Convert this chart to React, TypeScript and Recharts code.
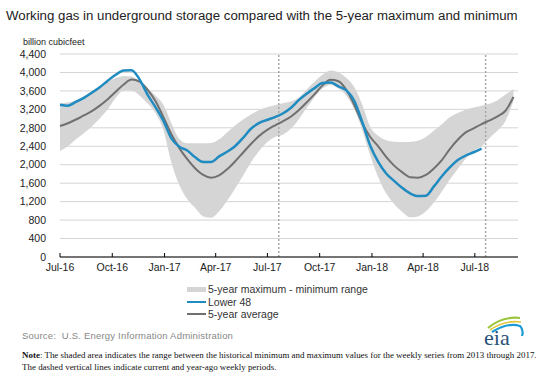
import React from 'react';
import {
  ComposedChart,
  Area,
  Line,
  XAxis,
  YAxis,
  CartesianGrid,
  ReferenceLine,
} from 'recharts';

// week offsets from 1 Jul 2016, every second week
const weeks = [
  0, 2, 4, 6, 8, 10, 12, 14, 16, 18, 20, 22, 24, 26, 28, 30, 32, 34, 36, 38,
  40, 42, 44, 46, 48, 50, 52, 54, 56, 58, 60, 62, 64, 66, 68, 70, 72, 74, 76,
  78, 80, 82, 84, 86, 88, 90, 92, 94, 96, 98, 100, 102, 104, 106, 108, 110,
  112, 114,
];

const lower48 = [
  3300, 3280, 3360, 3450, 3560, 3680, 3820, 3950, 4040, 4050, 3850, 3520,
  3250, 2950, 2570, 2390, 2310, 2160, 2060, 2060, 2180, 2280, 2400, 2580,
  2780, 2900, 2970, 3030, 3110, 3230, 3400, 3540, 3660, 3770, 3780, 3700,
  3610, 3380, 2920, 2410, 2060, 1810, 1650, 1500, 1380, 1320, 1330, 1530,
  1750, 1940, 2100, 2200, 2270, 2350,
];

const fiveYearAvg = [
  2840, 2900, 2980, 3070, 3160, 3280, 3420, 3580, 3740, 3850, 3800, 3630,
  3380, 3030, 2660, 2360, 2120, 1920, 1780, 1720, 1770, 1900, 2070, 2260,
  2450, 2620, 2750, 2850, 2940, 3040, 3180, 3350, 3530, 3720, 3840, 3810,
  3620, 3290, 2900, 2600, 2400, 2170, 1980, 1840, 1730, 1720, 1780, 1920,
  2100, 2340, 2540, 2700, 2790, 2880, 2960, 3050, 3170, 3470,
];

const rangeMax = [
  3330, 3350, 3400, 3480, 3600, 3700, 3800, 3880, 3925, 3910, 3800, 3660,
  3500, 3300, 2900, 2560, 2465, 2465, 2465, 2470, 2550, 2700, 2850, 2980,
  3090, 3180, 3245, 3290, 3330, 3370, 3450, 3630, 3800, 3950, 4040, 4000,
  3880, 3680, 3300, 2820, 2630, 2530, 2500, 2490, 2495, 2520, 2600, 2740,
  2880, 3030, 3120, 3190, 3240, 3280, 3320, 3400, 3520, 3640,
];

const rangeMin = [
  2300, 2400, 2550, 2680, 2830, 3000, 3200, 3450, 3610, 3610, 3500, 3330,
  3120, 2750, 2050, 1560, 1250, 1060, 880, 850, 990, 1220, 1480, 1760,
  2050, 2290, 2480, 2600, 2650, 2780, 2980, 3230, 3460, 3650, 3730, 3650,
  3490, 3200, 2750, 2200, 1730, 1380, 1150, 980, 860, 880, 990, 1180,
  1420, 1680, 1910, 2130, 2300, 2400, 2580, 2740, 2950, 3380,
];

const tickDates = [
  '2016-07-01', '2016-10-01', '2017-01-01', '2017-04-01', '2017-07-01',
  '2017-10-01', '2018-01-01', '2018-04-01', '2018-07-01',
];
const tickLabels = [
  'Jul-16', 'Oct-16', 'Jan-17', 'Apr-17', 'Jul-17',
  'Oct-17', 'Jan-18', 'Apr-18', 'Jul-18',
];
const yTicks = [0, 400, 800, 1200, 1600, 2000, 2400, 2800, 3200, 3600, 4000, 4400];

// year-ago and current weeks (21 Jul 2017, 20 Jul 2018)
const markerWeeks = [55, 107];
const axisEndDate = '2018-09-15';

const START = Date.UTC(2016, 6, 1);
const toDay = (s: string) => (Date.parse(s + 'T00:00:00Z') - START) / 86400000;

const tickDays = tickDates.map(toDay);

const data = weeks.map((w, i) => ({
  day: w * 7,
  lower48: i < lower48.length ? lower48[i] : null,
  avg: fiveYearAvg[i],
  range: [rangeMin[i], rangeMax[i]],
}));

const font = '"Liberation Sans", Arial, sans-serif';

const XTick = (props: any) => {
  const { x, y, payload } = props;
  const idx = tickDays.indexOf(payload.value);
  return (
    <g>
      <line x1={x} x2={x} y1={y} y2={y - 4} stroke="#000" strokeWidth={1} />
      <text x={x} y={y + 14} textAnchor="middle" fontSize={10.5} fill="#222" fontFamily={font}>
        {idx >= 0 ? tickLabels[idx] : ''}
      </text>
    </g>
  );
};

export default function App() {
  return (
    <div
      style={{
        position: 'absolute',
        left: 0,
        top: 0,
        width: 542,
        height: 379,
        background: '#fff',
        fontFamily: font,
        overflow: 'hidden',
      }}
    >
      <ComposedChart
        width={542}
        height={379}
        data={data}
        margin={{ top: 54, right: 24, left: 0, bottom: 102 }}
      >
        <CartesianGrid vertical={false} stroke="#d4d4d4" strokeWidth={1} />
        <XAxis
          dataKey="day"
          type="number"
          domain={[0, toDay(axisEndDate)]}
          ticks={tickDays}
          interval={0}
          height={20}
          tickSize={0}
          tickMargin={0}
          tickLine={false}
          axisLine={{ stroke: '#000', strokeWidth: 1 }}
          tick={<XTick />}
        />
        <YAxis
          width={60}
          domain={[0, 4400]}
          ticks={yTicks}
          interval={0}
          axisLine={false}
          tickLine={false}
          tickMargin={8}
          tick={{ fontSize: 10.5, fill: '#222', fontFamily: font }}
          tickFormatter={(v: number) => v.toLocaleString('en-US')}
        />
        <Area
          dataKey="range"
          type="monotone"
          stroke="none"
          fill="#d5d5d5"
          fillOpacity={1}
          isAnimationActive={false}
        />
        {markerWeeks.map((w) => (
          <ReferenceLine
            key={w}
            x={w * 7}
            stroke="#a8a8a8"
            strokeWidth={1.5}
            strokeDasharray="2 2"
          />
        ))}
        <Line
          dataKey="avg"
          type="monotone"
          stroke="#707070"
          strokeWidth={2}
          dot={false}
          isAnimationActive={false}
        />
        <Line
          dataKey="lower48"
          type="monotone"
          stroke="#1f8bc0"
          strokeWidth={2.5}
          dot={false}
          connectNulls={false}
          isAnimationActive={false}
        />
      </ComposedChart>

      <div style={{ position: 'absolute', left: 6, top: 8, fontSize: 13.25, color: '#222', whiteSpace: 'nowrap' }}>
        Working gas in underground storage compared with the 5-year maximum and minimum
      </div>
      <div style={{ position: 'absolute', left: 23, top: 37, fontSize: 9, color: '#222', whiteSpace: 'nowrap' }}>
        billion cubicfeet
      </div>

      <div style={{ position: 'absolute', left: 187, top: 283, fontSize: 10.5, color: '#333', lineHeight: '12.5px' }}>
        <div style={{ display: 'flex', alignItems: 'center' }}>
          <span style={{ display: 'inline-block', width: 19, height: 5, background: '#d5d5d5', marginRight: 2 }} />
          5-year maximum - minimum range
        </div>
        <div style={{ display: 'flex', alignItems: 'center' }}>
          <span style={{ display: 'inline-block', width: 19, height: 2, background: '#1f8bc0', marginRight: 2 }} />
          Lower 48
        </div>
        <div style={{ display: 'flex', alignItems: 'center' }}>
          <span style={{ display: 'inline-block', width: 19, height: 2, background: '#707070', marginRight: 2 }} />
          5-year average
        </div>
      </div>

      <div style={{ position: 'absolute', left: 22, top: 330, fontSize: 9.5, color: '#888', whiteSpace: 'nowrap', letterSpacing: 0.2 }}>
        Source:&nbsp; U.S. Energy Information Administration
      </div>

      <svg style={{ position: 'absolute', left: 474, top: 310 }} width={60} height={42}>
        <path d="M14 18 Q28 6 46 8" stroke="#9bc53d" strokeWidth={2.2} fill="none" />
        <path d="M16 20 Q30 10 47 12" stroke="#e3c83a" strokeWidth={1.6} fill="none" />
        <path d="M18 22 Q34 12 46 16 Q50 20 48 26" stroke="#1a9bd7" strokeWidth={2.2} fill="none" />
        <text x={10} y={35} fontSize={22} fontFamily='"Liberation Serif", "Times New Roman", serif' fill="#28527a">
          eia
        </text>
      </svg>

      <div
        style={{
          position: 'absolute',
          left: 22,
          top: 349,
          fontSize: 8.95,
          lineHeight: '12px',
          color: '#111',
          fontFamily: '"Liberation Serif", "Times New Roman", serif',
          whiteSpace: 'nowrap',
        }}
      >
        <div>
          <b>Note</b>: The shaded area indicates the range between the historical minimum and maximum values for the weekly series from 2013 through 2017.
        </div>
        <div>The dashed vertical lines indicate current and year-ago weekly periods.</div>
      </div>
    </div>
  );
}
